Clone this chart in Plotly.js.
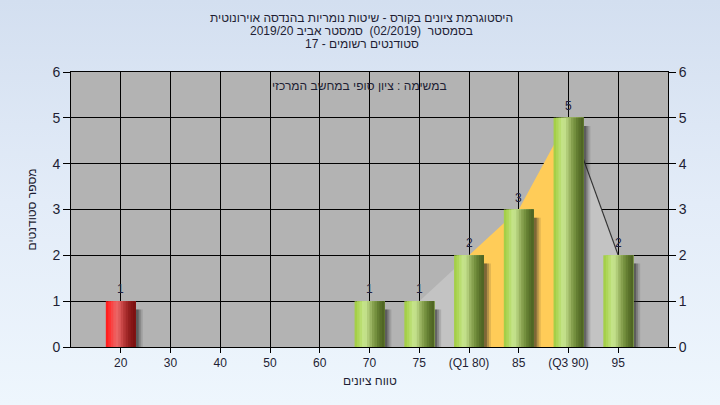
<!DOCTYPE html>
<html>
<head>
<meta charset="utf-8">
<script src="https://cdn.plot.ly/plotly-3.0.1.min.js"></script>
<style>
  html, body { margin:0; padding:0; width:720px; height:405px; overflow:hidden;
    background: linear-gradient(to bottom, #d3dff0 0%, #e3ecf8 50%, #eef6fd 100%); }
  #chart { width:720px; height:405px; }
</style>
</head>
<body>
<div id="chart"></div>
<script>
// ---- data ----
const categories = ['20','30','40','50','60','70','75','(Q1 80)','85','(Q3 90)','95'];
const counts     = [1, 0, 0, 0, 0, 1, 1, 2, 3, 5, 2];
const failingCategories = ['20'];
const q1Label = '(Q1 80)';
const q3Label = '(Q3 90)';
const areaStartLabel = '75';
const titleLines = [
  'היסטוגרמת ציונים בקורס - שיטות נומריות בהנדסה אוירונוטית',
  'בסמסטר  (02/2019)  סמסטר אביב 2019/20',
  'סטודנטים רשומים - 17'
];
const noteText = 'במשימה : ציון סופי במחשב המרכזי';
const xTitle = 'טווח ציונים';
const yTitle = 'מספר סטודנטים';

// ---- styling ----
const FONT = 'Liberation Sans, Arial, sans-serif';
const TXT = '#1e1e34';
const greenStops = ['#a4cf48','#aed658','#b9dd70','#c4e388','#c2df8a','#b0cc78','#9ab462','#86a04e','#74903e','#647e32','#587029','#506624'];
const redStops   = ['#ff1e1e','#ff3030','#f84646','#f05a5a','#ea6464','#dc5a5a','#c84646','#b43636','#a22828','#921e1e','#861616','#7c1212'];
const BW = 0.6;

const traces = [];

// area (main subplot, drawn beneath the bars)
const iStart = categories.indexOf(areaStartLabel);
const iQ1 = categories.indexOf(q1Label);
const iQ3 = categories.indexOf(q3Label);
const iEnd = categories.length - 1;
traces.push({type:'scatter', x: categories.slice(iStart, iQ1+1), y: counts.slice(iStart, iQ1+1),
  fill:'tozeroy', fillcolor:'#c3c3c3', mode:'lines', line:{width:0, color:'#c3c3c3'}, hoverinfo:'skip', xaxis:'x', yaxis:'y'});
traces.push({type:'scatter', x: categories.slice(iQ1, iQ3+1), y: counts.slice(iQ1, iQ3+1),
  fill:'tozeroy', fillcolor:'#ffcc58', mode:'lines', line:{width:0, color:'#ffcc58'}, hoverinfo:'skip', xaxis:'x', yaxis:'y'});
traces.push({type:'scatter', x: categories.slice(iQ3, iEnd+1), y: counts.slice(iQ3, iEnd+1),
  fill:'tozeroy', fillcolor:'#c3c3c3', mode:'lines', line:{width:1.2, color:'#333333'}, hoverinfo:'skip', xaxis:'x', yaxis:'y'});

// shadows (overlay subplot)
[[0.14, 'rgba(40,40,40,0.15)'], [0.10, 'rgba(40,40,40,0.25)'], [0.06, 'rgba(30,30,30,0.35)']].forEach(([dx, c]) => {
  traces.push({type:'bar', x: categories, y: counts, base: -0.18, width: BW, offset: -BW/2 + dx,
    marker:{color:c, line:{width:0}}, hoverinfo:'skip', xaxis:'x2', yaxis:'y2'});
});

// cylinder bars made of overlapping stripes
const N = greenStops.length;
for (let i = 0; i < N; i++) {
  const step = BW / N;
  const colors = categories.map((c) => failingCategories.includes(c) ? redStops[i] : greenStops[i]);
  traces.push({type:'bar', x: categories, y: counts, width: BW - i*step, offset: -BW/2 + i*step,
    marker:{color: colors, line:{width:0}}, hoverinfo:'skip', xaxis:'x2', yaxis:'y2'});
}

const xCommon = {type:'category', categoryorder:'array', categoryarray: categories, range:[-1, 11]};

// value labels as annotations anchored at bar tops (x given as category index)
const valueAnnotations = categories.map((c, i) => counts[i] > 0 ? {
  text: String(counts[i]), xref:'x2', yref:'y2', x: i, y: counts[i],
  xanchor:'center', yanchor:'bottom', yshift: 3, showarrow:false,
  font:{family:FONT, size:12, color:'#202040'}
} : null).filter(Boolean);

const layout = {
  width:720, height:405,
  margin:{l:71, r:52, t:72, b:58},
  paper_bgcolor:'rgba(0,0,0,0)',
  plot_bgcolor:'#b3b3b3',
  showlegend:false,
  barmode:'overlay',
  font:{family:FONT, color:TXT, size:12},
  xaxis: Object.assign({}, xCommon, {
    showgrid:true, gridcolor:'#000000', gridwidth:1,
    showline:true, linecolor:'#000000', linewidth:1, mirror:true,
    ticks:'outside', ticklen:5, tickcolor:'#000000',
    tickfont:{family:FONT, size:12, color:TXT}, zeroline:false
  }),
  xaxis2: Object.assign({}, xCommon, {overlaying:'x', visible:false}),
  yaxis: {
    range:[0, 6], dtick:1, tick0:0,
    showgrid:true, gridcolor:'#000000', gridwidth:1,
    showline:true, linecolor:'#000000', linewidth:1, mirror:true,
    ticks:'outside', ticklen:7, tickcolor:'#000000',
    tickfont:{family:FONT, size:14, color:TXT}, zeroline:false
  },
  yaxis2: {
    overlaying:'y', side:'right', range:[0, 6], dtick:1, tick0:0,
    showgrid:false, showline:false, zeroline:false,
    ticks:'outside', ticklen:7, tickcolor:'#000000',
    tickfont:{family:FONT, size:14, color:TXT}
  },
  annotations: [
    {text:titleLines[0], xref:'paper', yref:'paper', x:0.487, y:1 + (72-18)/275, xanchor:'center', yanchor:'middle', showarrow:false, font:{family:FONT, size:12, color:TXT}},
    {text:titleLines[1], xref:'paper', yref:'paper', x:0.487, y:1 + (72-31)/275, xanchor:'center', yanchor:'middle', showarrow:false, font:{family:FONT, size:12, color:TXT}},
    {text:titleLines[2], xref:'paper', yref:'paper', x:0.487, y:1 + (72-44)/275, xanchor:'center', yanchor:'middle', showarrow:false, font:{family:FONT, size:12, color:TXT}},
    {text:noteText, xref:'paper', yref:'paper', x:0.484, y:1 + (72-86)/275, xanchor:'center', yanchor:'middle', showarrow:false, font:{family:FONT, size:12, color:TXT}},
    {text:xTitle, xref:'paper', yref:'paper', x:0.5, y:(347-381)/275, xanchor:'center', yanchor:'middle', showarrow:false, font:{family:FONT, size:12, color:TXT}},
    {text:yTitle, xref:'paper', yref:'paper', x:(31-71)/597, y:0.5, xanchor:'center', yanchor:'middle', textangle:-90, showarrow:false, font:{family:FONT, size:12, color:TXT}}
  ].concat(valueAnnotations)
};

Plotly.newPlot('chart', traces, layout, {staticPlot:true, displayModeBar:false});
</script>
</body>
</html>
